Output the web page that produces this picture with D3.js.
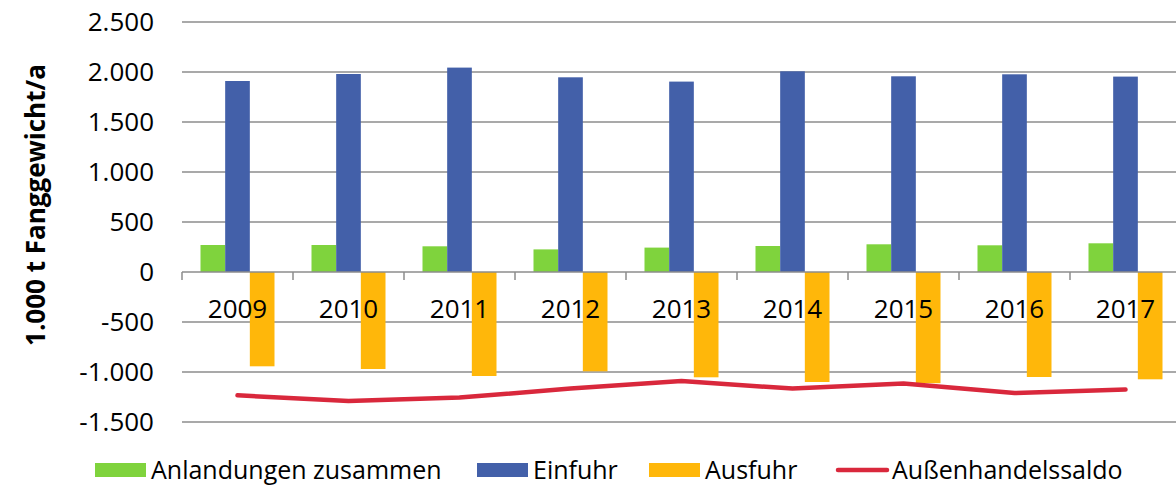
<!DOCTYPE html>
<html>
<head>
<meta charset="utf-8">
<style>
  body { margin: 0; background: #fff; }
  text { font-family: "Open Sans", "Noto Sans", sans-serif; fill: #000; }
</style>
<script src="https://d3js.org/d3.v7.min.js"></script>
</head>
<body>
<svg width="1176" height="493" id="chart"></svg>
<script>
// data (1.000 t Fanggewicht/a)
var years = ["2009", "2010", "2011", "2012", "2013", "2014", "2015", "2016", "2017"];
var anlandungen = [270, 270, 257, 226, 244, 260, 277, 267, 287];
var einfuhr = [1910, 1980, 2044, 1947, 1904, 2007, 1957, 1977, 1954];
var ausfuhr = [-943, -970, -1040, -993, -1053, -1100, -1112, -1050, -1073];
var saldo = [-1233, -1290, -1256, -1166, -1090, -1166, -1116, -1210, -1176];
var yTicks = [-1500, -1000, -500, 0, 500, 1000, 1500, 2000, 2500];

var barSeries = [
  { name: "Anlandungen zusammen", values: anlandungen, color: "#7fd33d" },
  { name: "Einfuhr", values: einfuhr, color: "#4360a9" },
  { name: "Ausfuhr", values: ausfuhr, color: "#ffb70a" }
];

var svg = d3.select("#chart");
var plotLeft = 182, plotRight = 1181, plotTop = 22, plotBottom = 422;

var x = d3.scaleBand().domain(years).range([plotLeft, plotRight]);
var inner = d3.scaleBand().domain([0, 1, 2]).range([0, x.bandwidth()]).paddingInner(0).paddingOuter(0.75);
var y = d3.scaleLinear().domain([-1500, 2500]).range([plotBottom, plotTop]);

// german number format, plain hyphen for negatives
var fmt = d3.formatLocale({ decimal: ",", thousands: ".", grouping: [3], currency: ["", "€"], minus: "-" }).format(",.0f");

// gridlines
svg.append("g").selectAll("line")
  .data(yTicks.filter(d => d != 0))
  .enter().append("line")
  .attr("x1", plotLeft).attr("x2", plotRight)
  .attr("y1", d => y(d)).attr("y2", d => y(d))
  .attr("stroke", "#8c8c8c").attr("stroke-width", 1.5);

// y tick labels
svg.append("g").selectAll("text")
  .data(yTicks)
  .enter().append("text")
  .attr("x", 154).attr("y", d => y(d))
  .attr("dy", "0.36em")
  .attr("text-anchor", "end")
  .style("font-size", "26px")
  .text(d => fmt(d));

// bars
barSeries.forEach(function(s, si) {
  svg.append("g").selectAll("rect")
    .data(s.values)
    .enter().append("rect")
    .attr("x", (d, i) => x(years[i]) + inner(si))
    .attr("width", inner.bandwidth())
    .attr("y", d => y(Math.max(0, d)))
    .attr("height", d => Math.abs(y(d) - y(0)))
    .attr("fill", s.color);
});

// zero axis with category ticks
svg.append("line")
  .attr("x1", plotLeft).attr("x2", plotRight)
  .attr("y1", y(0)).attr("y2", y(0))
  .attr("stroke", "#8c8c8c").attr("stroke-width", 1.5);
svg.append("g").selectAll("line")
  .data(years.concat(["end"]))
  .enter().append("line")
  .attr("x1", (d, i) => plotLeft + i * x.step()).attr("x2", (d, i) => plotLeft + i * x.step())
  .attr("y1", y(0)).attr("y2", y(0) + 8)
  .attr("stroke", "#8c8c8c").attr("stroke-width", 1.5);

// category labels
svg.append("g").selectAll("text")
  .data(years)
  .enter().append("text")
  .attr("x", d => x(d) + x.bandwidth() / 2)
  .attr("y", 318)
  .attr("text-anchor", "middle")
  .style("font-size", "26px")
  .text(d => d);

// saldo line
var line = d3.line()
  .x((d, i) => x(years[i]) + x.bandwidth() / 2)
  .y(d => y(d));
svg.append("path")
  .datum(saldo)
  .attr("d", line)
  .attr("fill", "none")
  .attr("stroke", "#d9283c")
  .attr("stroke-width", 4.5)
  .attr("stroke-linecap", "round")
  .attr("stroke-linejoin", "round");

// y axis title
svg.append("text")
  .attr("transform", "translate(45,205) rotate(-90)")
  .attr("text-anchor", "middle")
  .style("font-size", "26px")
  .style("font-weight", "bold")
  .text("1.000 t Fanggewicht/a");

// legend
var legend = [
  { name: "Anlandungen zusammen", color: "#7fd33d", type: "rect", x: 95 },
  { name: "Einfuhr", color: "#4360a9", type: "rect", x: 477 },
  { name: "Ausfuhr", color: "#ffb70a", type: "rect", x: 649 },
  { name: "Außenhandelssaldo", color: "#d9283c", type: "line", x: 836 }
];
var lg = svg.append("g").selectAll("g")
  .data(legend)
  .enter().append("g")
  .attr("transform", d => "translate(" + d.x + ",470)");
lg.filter(d => d.type == "rect").append("rect")
  .attr("x", 0).attr("y", -7).attr("width", 51).attr("height", 14)
  .attr("fill", d => d.color);
lg.filter(d => d.type == "line").append("line")
  .attr("x1", 2).attr("x2", 51).attr("y1", 0).attr("y2", 0)
  .attr("stroke", d => d.color).attr("stroke-width", 4.5)
  .attr("stroke-linecap", "round");
lg.append("text")
  .attr("x", 56).attr("y", 0).attr("dy", "0.36em")
  .style("font-size", "25px")
  .text(d => d.name);
</script>
</body>
</html>
